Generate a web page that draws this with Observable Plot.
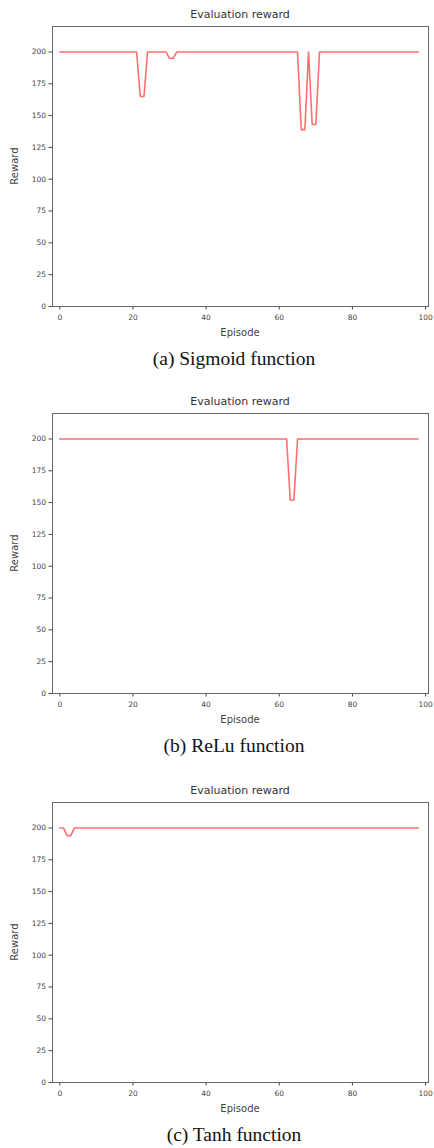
<!DOCTYPE html>
<html><head><meta charset="utf-8">
<script src="https://cdn.jsdelivr.net/npm/d3@7"></script>
<script src="https://cdn.jsdelivr.net/npm/@observablehq/plot@0.6"></script>
<style>
body{margin:0;background:#fff;}
#root{position:relative;width:434px;height:1148px;overflow:hidden;background:#fff;}
.abs{position:absolute;white-space:nowrap;line-height:1;}
.title{font-family:"DejaVu Sans";font-size:11px;color:#333;transform:translate(-50%,-50%);}
.xlabel{font-family:"DejaVu Sans";font-size:10px;color:#444;transform:translate(-50%,-50%);}
.ylabel{font-family:"DejaVu Sans";font-size:10px;color:#444;transform:translate(-50%,-50%) rotate(-90deg);}
.caption{font-family:"Liberation Serif";font-size:19.5px;color:#111;transform:translate(-50%,-50%);}
svg{position:absolute;left:0;}
</style></head><body><div id="root"></div>
<script>
const episodes = d3.range(99);
const xTicks = [0, 20, 40, 60, 80, 100];
const yTicks = [0, 25, 50, 75, 100, 125, 150, 175, 200];
const titles = ["Evaluation reward", "Evaluation reward", "Evaluation reward"];
const captions = ["(a) Sigmoid function", "(b) ReLu function", "(c) Tanh function"];

const sigmoid = [
  200,200,200,200,200,200,200,200,200,200,
  200,200,200,200,200,200,200,200,200,200,
  200,200,165,165,200,200,200,200,200,200,
  195,195,200,200,200,200,200,200,200,200,
  200,200,200,200,200,200,200,200,200,200,
  200,200,200,200,200,200,200,200,200,200,
  200,200,200,200,200,200,139,139,200,143,
  143,200,200,200,200,200,200,200,200,200,
  200,200,200,200,200,200,200,200,200,200,
  200,200,200,200,200,200,200,200,200
];
const relu = [
  200,200,200,200,200,200,200,200,200,200,
  200,200,200,200,200,200,200,200,200,200,
  200,200,200,200,200,200,200,200,200,200,
  200,200,200,200,200,200,200,200,200,200,
  200,200,200,200,200,200,200,200,200,200,
  200,200,200,200,200,200,200,200,200,200,
  200,200,200,152,152,200,200,200,200,200,
  200,200,200,200,200,200,200,200,200,200,
  200,200,200,200,200,200,200,200,200,200,
  200,200,200,200,200,200,200,200,200
];
const tanh = [
  200,200,194,194,200,200,200,200,200,200,
  200,200,200,200,200,200,200,200,200,200,
  200,200,200,200,200,200,200,200,200,200,
  200,200,200,200,200,200,200,200,200,200,
  200,200,200,200,200,200,200,200,200,200,
  200,200,200,200,200,200,200,200,200,200,
  200,200,200,200,200,200,200,200,200,200,
  200,200,200,200,200,200,200,200,200,200,
  200,200,200,200,200,200,200,200,200,200,
  200,200,200,200,200,200,200,200,200
];
const series = [sigmoid, relu, tanh];
const frameTops = [26, 413, 802];

const root = document.getElementById("root");
const PH = 280, MT = 4, MB = 22, ML = 52, MR = 6;

function addText(cls, text, x, y) {
  const d = document.createElement("div");
  d.className = "abs " + cls;
  d.textContent = text;
  d.style.left = x + "px";
  d.style.top = y + "px";
  root.appendChild(d);
}

series.forEach((values, k) => {
  const top = frameTops[k];
  const data = episodes.map((e, i) => ({episode: e, reward: values[i]}));
  const svg = Plot.plot({
    width: 434, height: MT + PH + MB,
    marginLeft: ML, marginRight: MR, marginTop: MT, marginBottom: MB,
    style: {fontFamily: '"DejaVu Sans"', fontSize: "7.5px", color: "#444", background: "white", overflow: "visible"},
    x: {domain: [-2, 100.8], ticks: xTicks, label: null, tickSize: 3.5, tickPadding: 4.5},
    y: {domain: [0, 220], ticks: yTicks, label: null, tickSize: 3.5, tickPadding: 3},
    marks: [
      Plot.lineY(data, {x: "episode", y: "reward", stroke: "#ff5555", strokeWidth: 1.6, strokeOpacity: 0.85}),
      Plot.frame({stroke: "#666", strokeWidth: 1})
    ]
  });
  svg.style.top = (top - MT) + "px";
  root.appendChild(svg);
  addText("title", titles[k], 240, top - 12);
  addText("ylabel", "Reward", 15, top + PH / 2);
  addText("xlabel", "Episode", 240, top + PH + 27);
  addText("caption", captions[k], 234, top + PH + 53);
});
</script></body></html>
